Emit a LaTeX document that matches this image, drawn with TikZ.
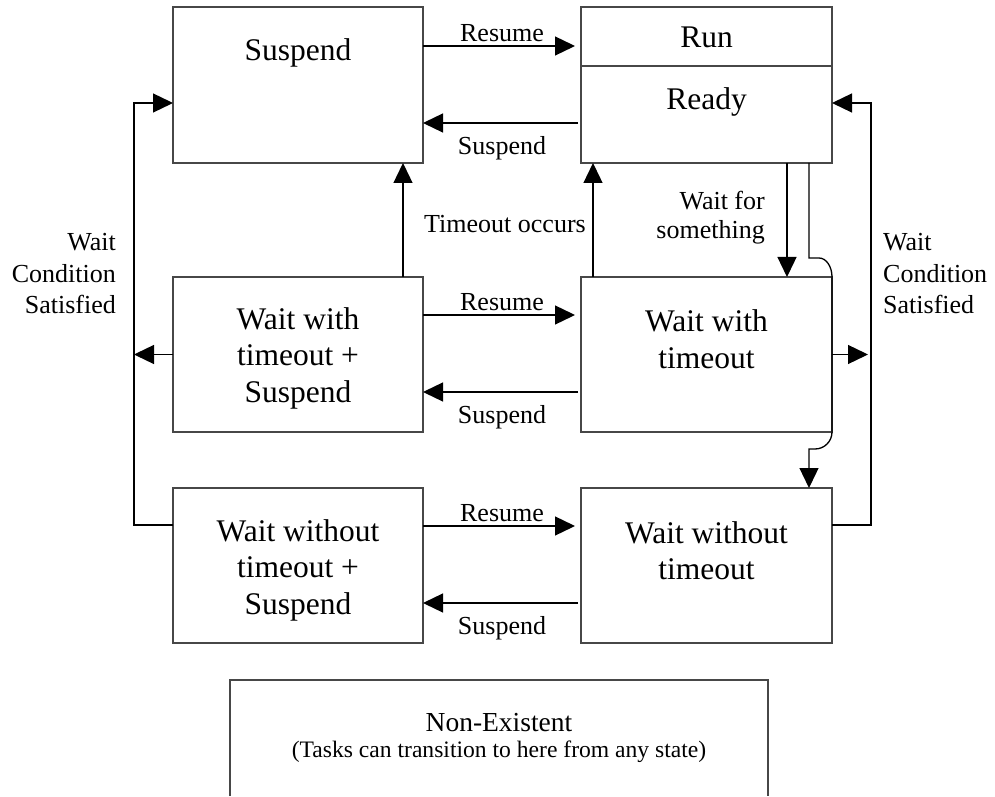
\documentclass[tikz,border=0pt]{standalone}
\usepackage{fontspec}
\setmainfont{Liberation Serif}
\usetikzlibrary{arrows.meta}
\begin{document}
\begin{tikzpicture}[x=1pt,y=1pt,
  state/.style={draw=black!72, line width=1.5pt, minimum width=250pt,
                minimum height=155pt, inner sep=0pt, outer sep=0pt},
  rstate/.style={state, minimum width=251pt},
  boxtext/.style={font=\fontsize{31.5}{36.5}\selectfont, align=center, inner sep=0pt},
  lbl/.style={font=\fontsize{26}{30}\selectfont, inner sep=0pt},
  conn/.style={line width=1.3pt, -{Triangle[length=20pt,width=19pt]}},
]
\useasboundingbox (0,0) rectangle (995,796);

% ---- states ----
\node[state, minimum height=156pt]  (susp) at (298,711)   {};
\node[rstate, minimum height=156pt] (run)  at (706.5,711) {};
\coordinate (divy) at (0,730);
\draw[black!72, line width=1.5pt] (run.west |- divy) -- (run.east |- divy);
\node[state]  (wts)  at (298,441.5)   {};
\node[rstate] (wt)   at (706.5,441.5) {};
\node[state]  (wots) at (298,230.5)   {};
\node[rstate] (wot)  at (706.5,230.5) {};

\node[minimum width=538pt, minimum height=116pt, inner sep=0pt, outer sep=0pt] (nonex) at (499,58) {};
\draw[black!72, line width=1.5pt] (nonex.south west) -- (nonex.north west)
      -- (nonex.north east) -- (nonex.south east);

% ---- state names ----
\node[boxtext] (tsusp)  at (298,743)     {Suspend};
\node[boxtext] (trun)   at (706.5,759)   {Run};
\node[boxtext] (tready) at (706.5,694)   {Ready};
\node[boxtext] (twts)   at (298,438)     {Wait with\\timeout +\\Suspend};
\node[boxtext] (twt)    at (706.5,457)   {Wait with\\timeout};
\node[boxtext] (twots)  at (298,226)     {Wait without\\timeout +\\Suspend};
\node[boxtext] (twot)   at (706.5,245.5) {Wait without\\timeout};
\node[font=\fontsize{27.5}{30}\selectfont, inner sep=0pt] (tnonex) at (499,73) {Non-Existent};
\node[font=\fontsize{23.6}{28}\selectfont, inner sep=0pt] (tnote) at (499,44)
      {(Tasks can transition to here from any state)};

% ---- resume / suspend ----
\draw[conn, shorten >=6pt] (susp.east |- 0,750) -- (run.west |- 0,750);
\draw[conn, shorten <=3pt] (run.west |- 0,673) -- (susp.east |- 0,673);
\draw[conn, shorten >=6pt] (wts.east |- 0,481) -- (wt.west |- 0,481);
\draw[conn, shorten <=3pt] (wt.west |- 0,404) -- (wts.east |- 0,404);
\draw[conn, shorten >=6pt] (wots.east |- 0,270) -- (wot.west |- 0,270);
\draw[conn, shorten <=3pt] (wot.west |- 0,193) -- (wots.east |- 0,193);

\node[lbl] (lres1) at (502,763) {Resume};
\node[lbl] (lsus1) at (502,648) {Suspend};
\node[lbl] (lres2) at (502,494) {Resume};
\node[lbl] (lsus2) at (502,379) {Suspend};
\node[lbl] (lres3) at (502,283) {Resume};
\node[lbl] (lsus3) at (502,168) {Suspend};

% ---- timeouts ----
\draw[conn] (wts.north -| 403,0) -- (susp.south -| 403,0);
\draw[conn] (wt.north -| 593,0) -- (run.south -| 593,0);
\node[lbl] (ltmo) at (505,572) {Timeout occurs};

% ---- waiting ----
\draw[conn] (run.south -| 787,0) -- (wt.north -| 787,0);
\node[lbl, align=right, anchor=east, font=\fontsize{26}{29}\selectfont] (lwfs)
      at (765,578.5) {Wait for\\something};
\draw[conn] (run.south -| 809,0) -- (809,538) -- (819,538)
      arc[start angle=90, end angle=0, x radius=13, y radius=19]
      -- (wt.south east)
      arc[start angle=0, end angle=-90, x radius=17, y radius=17]
      -- (809,347) -- (wot.north -| 809,0);

% ---- wait condition satisfied ----
\coordinate (lbus) at (134,693);
\coordinate (rbus) at (871,693);
\draw[conn] (wots.west |- 0,271) -| (lbus) -- (susp.west |- lbus);
\draw[conn] (wts.west) -- (wts.west -| lbus);
\draw[conn] (wot.east |- 0,271) -| (rbus) -- (run.east |- rbus);
\draw[conn, shorten >=3pt] (wt.east) -- (wt.east -| rbus);
\node[lbl, align=right, anchor=east, font=\fontsize{26}{31.5}\selectfont] (lwcsl)
      at (116,522) {Wait\\Condition\\Satisfied};
\node[lbl, align=left, anchor=west, font=\fontsize{26}{31.5}\selectfont] (lwcsr)
      at (883,522) {Wait\\Condition\\Satisfied};
\end{tikzpicture}
\end{document}
